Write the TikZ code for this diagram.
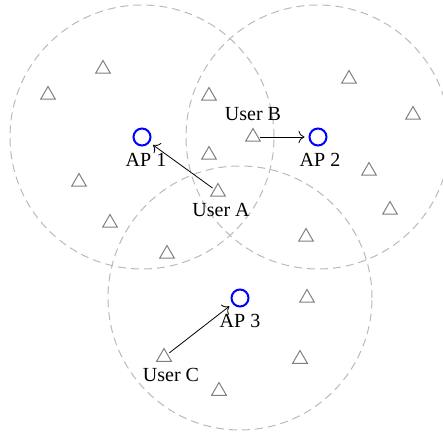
\documentclass[tikz,border=0pt]{standalone}
\usepackage{fontspec}
\setmainfont{Liberation Serif}
\usepackage{tikz}
\usetikzlibrary{arrows.meta}
\usetikzlibrary{shapes.geometric}

\begin{document}
\begin{tikzpicture}[x=0.5pt,y=0.5pt,
        ap/.style = {circle, draw=blue, line width=1pt, minimum size=8.5pt,
              inner sep=0pt},
        user/.style = {regular polygon, regular polygon sides=3, draw=black!50,
              line width=0.5pt, minimum size=8.5pt, inner sep=0pt},
        cell/.style = {draw=black!27, line width=0.5pt, dash pattern=on 4pt off 2.5pt},
        assoc/.style = {-{To[length=3pt]}, shorten >=2pt, shorten <=1pt},
        every label/.style = {inner sep=1pt},
        label distance=2pt,
    ]
    \useasboundingbox (0,0) rectangle (443,433);
    % coverage of the access points
    \draw[cell] (142,296) circle (132);
    \draw[cell] (318,296) circle (132);
    \draw[cell] (240,135) circle (132);
    % access points
    \node[ap,label={[xshift=2pt]below:AP 1}] (ap1) at (142,296) {};
    \node[ap,label={[xshift=1pt]below:AP 2}] (ap2) at (318,296) {};
    \node[ap,label=below:AP 3] (ap3) at (240,135) {};
    % users
    \node[user] (u1) at (103,364) {};
    \node[user] (u2) at (48,338) {};
    \node[user] (u3) at (209,337) {};
    \node[user] (u4) at (349,354) {};
    \node[user] (u5) at (413,318) {};
    \node[user] (u7) at (209,278) {};
    \node[user] (u8) at (369,262) {};
    \node[user] (u9) at (79,251) {};
    \node[user] (u11) at (390,223) {};
    \node[user] (u12) at (110,210) {};
    \node[user] (u13) at (306,196) {};
    \node[user] (u14) at (167,179) {};
    \node[user] (u15) at (307,135) {};
    \node[user] (u17) at (300,74) {};
    \node[user] (u18) at (219,42) {};
    % User A
    \node[user,label={[xshift=1.5pt]below:User A}] (uA) at (218,241) {};
    \draw[assoc] (uA) -- (ap1);
    % User B
    \node[user,label=above:User B] (uB) at (253,296) {};
    \draw[assoc] (uB) -- (ap2);
    % User C
    \node[user,label={[xshift=3.5pt]below:User C}] (uC) at (164,76) {};
    \draw[assoc] (uC) -- (ap3);
\end{tikzpicture}
\end{document}
